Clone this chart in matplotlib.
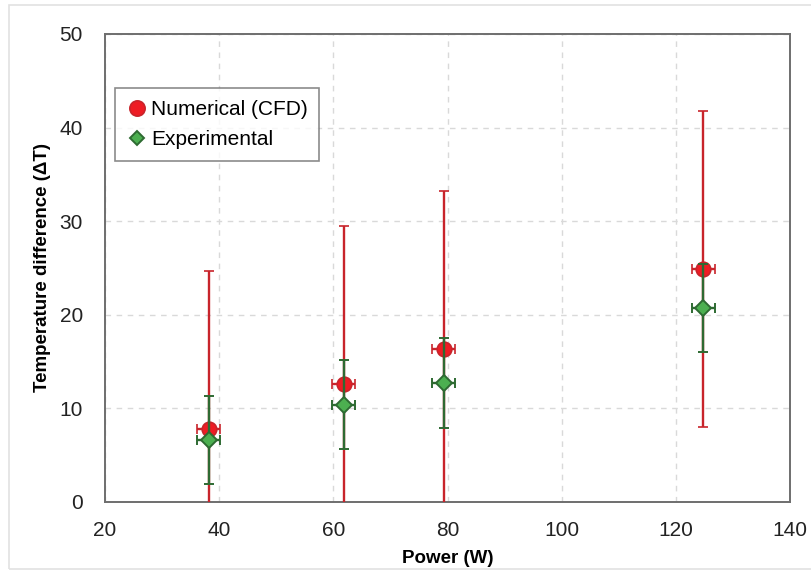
import matplotlib
matplotlib.use("Agg")
import matplotlib.pyplot as plt
from matplotlib.lines import Line2D
from matplotlib.patches import Rectangle

# Power (W) and temperature difference (dT)
power_cfd = [38.2, 61.8, 79.3, 124.8]
dt_cfd = [7.8, 12.6, 16.3, 24.9]
dt_cfd_err = [16.9, 16.9, 16.9, 16.9]

power_exp = [38.2, 61.8, 79.3, 124.8]
dt_exp = [6.6, 10.4, 12.7, 20.7]
dt_exp_err = [4.7, 4.75, 4.8, 4.7]

power_err = [2.0, 2.0, 2.0, 2.0]

x_ticks = [20, 40, 60, 80, 100, 120, 140]
y_ticks = [0, 10, 20, 30, 40, 50]

RED, RED_EDGE = "#ee1c24", "#c8242b"
GREEN, GREEN_EDGE = "#4caf50", "#2e6a32"

plt.rcParams["font.family"] = ["Liberation Sans", "DejaVu Sans"]

fig = plt.figure(figsize=(8.12, 5.76), dpi=100)
ax = fig.add_axes([0.1293, 0.1285, 0.8437, 0.8125])

# light outer border like the source image
fig.patches.append(Rectangle((0.011, 0.013), 0.995, 0.979, transform=fig.transFigure,
                             fill=False, edgecolor="#e2e2e2", linewidth=1.2))

ax.errorbar(power_cfd, dt_cfd, yerr=dt_cfd_err, xerr=power_err, fmt="o",
            color=RED_EDGE, ecolor=RED_EDGE, elinewidth=1.7, capsize=3.5, capthick=1.6,
            markersize=10.5, markerfacecolor=RED, markeredgecolor=RED_EDGE,
            markeredgewidth=1.2, zorder=3)
ax.errorbar(power_exp, dt_exp, yerr=dt_exp_err, xerr=power_err, fmt="D",
            color=GREEN_EDGE, ecolor=GREEN_EDGE, elinewidth=1.7, capsize=3.5, capthick=1.6,
            markersize=8.5, markerfacecolor=GREEN, markeredgecolor=GREEN_EDGE,
            markeredgewidth=1.4, zorder=4)

ax.set_xlim(20, 140)
ax.set_ylim(0, 50)
ax.set_xticks(x_ticks)
ax.set_yticks(y_ticks)
ax.tick_params(axis="both", length=0, labelsize=15, colors="#222222")
ax.tick_params(axis="x", pad=14)
ax.tick_params(axis="y", pad=16)
ax.grid(True, linestyle=(0, (4, 4)), color="#d9d9d9", linewidth=1)
ax.set_axisbelow(True)
for s in ax.spines.values():
    s.set_color("#6e6e6e")
    s.set_linewidth(1.4)

ax.set_xlabel("Power (W)", fontsize=13.5, fontweight="bold", labelpad=7)
ax.set_ylabel("Temperature difference (ΔT)", fontsize=13.5, fontweight="bold", labelpad=6)

# legend shows markers only (no error bars)
handles = [
    Line2D([], [], linestyle="none", marker="o", markersize=11, markerfacecolor=RED,
           markeredgecolor=RED_EDGE, markeredgewidth=1.2, label="Numerical (CFD)"),
    Line2D([], [], linestyle="none", marker="D", markersize=7.5, markerfacecolor=GREEN,
           markeredgecolor=GREEN_EDGE, markeredgewidth=1.4, label="Experimental"),
]
leg = ax.legend(handles=handles, loc="upper left", bbox_to_anchor=(-0.006, 0.915),
                fontsize=15, frameon=True, fancybox=False, edgecolor="#6e6e6e",
                handletextpad=0.15, handlelength=1.0, borderpad=0.55, labelspacing=0.55,
                borderaxespad=0.7)
leg.get_frame().set_linewidth(1.2)

fig.savefig("out.png", dpi=100)
